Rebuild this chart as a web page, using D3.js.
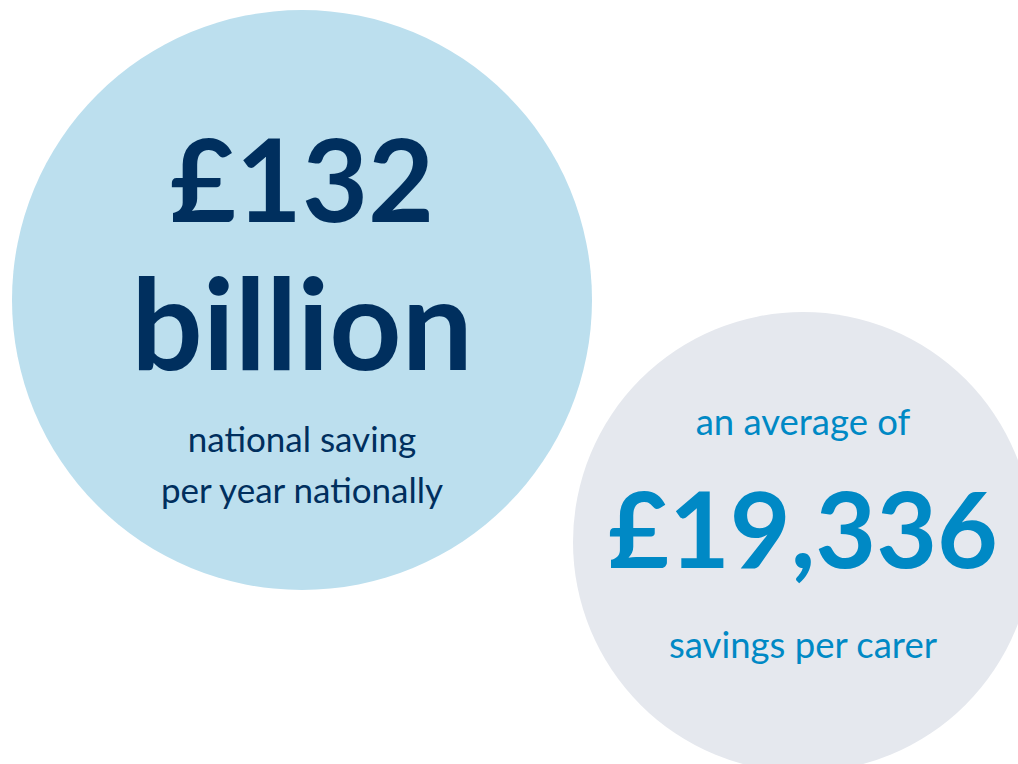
<!DOCTYPE html>
<html>
<head>
<meta charset="utf-8">
<script src="https://cdn.jsdelivr.net/npm/d3@7"></script>
<style>
  html, body { margin: 0; padding: 0; background: #fff; }
  svg { display: block; font-family: Lato, "Open Sans", sans-serif; }
</style>
</head>
<body>
<svg id="chart"></svg>
<script>
// figures shown in the two bubbles
var bubbleNames = ["national", "carer"];
var bigFigures = [["£132", "billion"], ["£19,336"]];
var topCaptions = [[], ["an average of"]];
var bottomCaptions = [["national saving", "per year nationally"], ["savings per carer"]];

var width = 1018, height = 764;
var svg = d3.select("#chart").attr("width", width).attr("height", height);

// layout for each bubble (kept apart from the figures)
var layout = {
    national: { cx: 302, cy: 300, r: 290, fill: "#bcdfee", ink: "#002f5e",
        bigSize: [114, 126], bigY: [222, 370], smallSize: 35, topY: [], bottomY: [452, 503] },
    carer: { cx: 803, cy: 542, r: 230, fill: "#e5e8ee", ink: "#0089c5",
        bigSize: [105], bigY: [568], smallSize: 36.5, topY: [435], bottomY: [658] }
};

var bubbles = bubbleNames.map(function (name, i) {
    return {
        name: name,
        big: bigFigures[i],
        top: topCaptions[i],
        bottom: bottomCaptions[i],
        L: layout[name]
    };
});

var g = svg.selectAll("g.bubble")
    .data(bubbles)
    .enter()
    .append("g")
    .attr("class", "bubble");

g.append("circle")
    .attr("cx", function (d) { return d.L.cx; })
    .attr("cy", function (d) { return d.L.cy; })
    .attr("r", function (d) { return d.L.r; })
    .attr("fill", function (d) { return d.L.fill; });

g.each(function (d) {
    var sel = d3.select(this);

    sel.selectAll("text.top")
        .data(d.top)
        .enter()
        .append("text")
        .attr("class", "top")
        .attr("x", d.L.cx)
        .attr("y", function (t, j) { return d.L.topY[j]; })
        .attr("text-anchor", "middle")
        .style("font-size", d.L.smallSize + "px")
        .style("fill", d.L.ink)
        .text(function (t) { return t; });

    sel.selectAll("text.big")
        .data(d.big)
        .enter()
        .append("text")
        .attr("class", "big")
        .attr("x", d.L.cx)
        .attr("y", function (t, j) { return d.L.bigY[j]; })
        .attr("text-anchor", "middle")
        .style("font-size", function (t, j) { return d.L.bigSize[j] + "px"; })
        .style("font-weight", 700)
        .style("fill", d.L.ink)
        .text(function (t) { return t; });

    sel.selectAll("text.bottom")
        .data(d.bottom)
        .enter()
        .append("text")
        .attr("class", "bottom")
        .attr("x", d.L.cx)
        .attr("y", function (t, j) { return d.L.bottomY[j]; })
        .attr("text-anchor", "middle")
        .style("font-size", d.L.smallSize + "px")
        .style("fill", d.L.ink)
        .text(function (t) { return t; });
});
</script>
</body>
</html>
